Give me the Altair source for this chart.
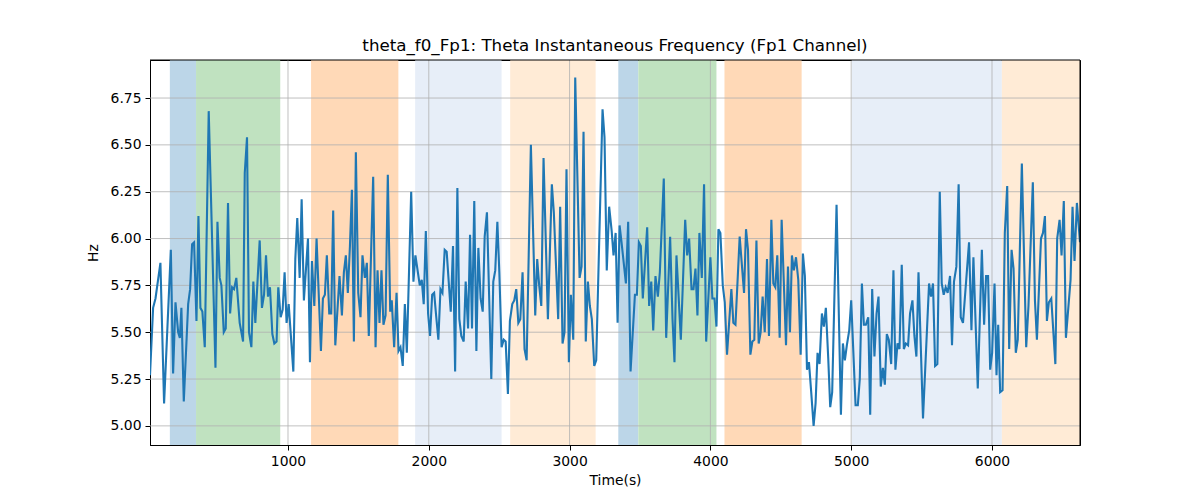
import pandas as pd
import altair as alt

# time (s) and instantaneous frequency (Hz)
t = [20, 42, 59, 94, 120, 168, 184, 201, 220, 232, 243, 260, 291, 305, 319, 333, 350, 364, 378, 392,
     409, 437, 485, 499, 515, 527, 544, 558, 574, 589, 603, 617, 633, 657, 681, 693, 709, 723, 740, 754,
     768, 799, 815, 830, 844, 858, 872, 889, 903, 919, 931, 948, 962, 976, 990, 1005, 1038, 1052, 1066, 1083,
     1097, 1113, 1142, 1156, 1170, 1187, 1203, 1234, 1248, 1262, 1276, 1293, 1307, 1321, 1336, 1366, 1383, 1397, 1411, 1425,
     1440, 1454, 1468, 1482, 1499, 1515, 1529, 1546, 1560, 1574, 1605, 1622, 1636, 1650, 1664, 1678, 1693, 1709, 1726, 1737,
     1754, 1771, 1785, 1799, 1815, 1830, 1844, 1875, 1891, 1905, 1936, 1950, 1964, 1979, 1995, 2009, 2024, 2038, 2052, 2068,
     2083, 2097, 2113, 2127, 2156, 2172, 2187, 2203, 2217, 2231, 2248, 2262, 2279, 2293, 2307, 2323, 2338, 2352, 2368, 2383,
     2397, 2413, 2444, 2458, 2472, 2487, 2501, 2517, 2532, 2546, 2562, 2576, 2593, 2607, 2621, 2636, 2650, 2666, 2680, 2695,
     2725, 2756, 2770, 2784, 2799, 2815, 2846, 2874, 2888, 2919, 2933, 2950, 2964, 2978, 2995, 3009, 3026, 3040, 3071, 3085,
     3099, 3115, 3130, 3144, 3158, 3175, 3189, 3234, 3248, 3264, 3281, 3299, 3312, 3327, 3341, 3355, 3369, 3400, 3416, 3433,
     3464, 3478, 3492, 3506, 3520, 3551, 3565, 3580, 3594, 3610, 3627, 3641, 3669, 3686, 3714, 3731, 3745, 3759, 3773, 3790,
     3821, 3835, 3849, 3866, 3880, 3894, 3908, 3922, 3939, 3955, 3970, 4000, 4014, 4029, 4043, 4057, 4071, 4088, 4102, 4118,
     4149, 4163, 4178, 4208, 4239, 4253, 4267, 4284, 4298, 4312, 4327, 4343, 4357, 4371, 4386, 4402, 4416, 4433, 4447, 4461,
     4475, 4492, 4506, 4537, 4551, 4565, 4579, 4593, 4608, 4624, 4641, 4657, 4671, 4686, 4700, 4716, 4733, 4747, 4761, 4775,
     4792, 4806, 4820, 4837, 4851, 4865, 4896, 4927, 4941, 4955, 4969, 4986, 5000, 5031, 5047, 5061, 5076, 5090, 5104, 5121,
     5135, 5149, 5165, 5180, 5194, 5210, 5225, 5239, 5253, 5267, 5284, 5300, 5314, 5329, 5343, 5359, 5374, 5388, 5404, 5418,
     5435, 5449, 5463, 5478, 5510, 5553, 5567, 5581, 5596, 5612, 5629, 5643, 5657, 5671, 5685, 5702, 5716, 5730, 5747, 5763,
     5778, 5794, 5837, 5854, 5868, 5899, 5928, 5944, 5958, 5972, 5987, 6001, 6018, 6032, 6044, 6058, 6075, 6091, 6108, 6122,
     6139, 6153, 6169, 6183, 6212, 6243, 6259, 6290, 6305, 6319, 6348, 6362, 6376, 6390, 6404, 6421, 6450, 6463, 6480, 6494,
     6510, 6525, 6558, 6572, 6586, 6603, 6625]
hz = [5.27, 5.63, 5.68, 5.87, 5.12, 5.94, 5.28, 5.66, 5.50, 5.47, 5.63, 5.13, 5.65, 5.73, 5.97, 5.98, 5.56, 6.12, 5.63, 5.61,
      5.42, 6.68, 5.31, 6.09, 5.79, 5.75, 5.50, 5.52, 6.19, 5.60, 5.74, 5.73, 5.79, 5.55, 5.45, 6.35, 6.54, 5.50, 5.42, 5.77,
      5.55, 5.99, 5.63, 5.70, 5.91, 5.69, 5.74, 5.49, 5.44, 5.45, 5.74, 5.58, 5.62, 5.82, 5.55, 5.65, 5.29, 5.89, 6.11, 5.79,
      6.21, 5.67, 6.00, 5.34, 5.88, 5.64, 6.00, 5.40, 5.68, 5.70, 5.91, 5.60, 5.60, 6.15, 5.43, 5.80, 5.59, 5.82, 5.91, 5.71,
      5.96, 6.26, 5.45, 6.46, 5.71, 5.58, 5.91, 5.79, 5.87, 5.48, 6.33, 5.42, 5.83, 5.55, 5.83, 5.54, 5.59, 6.34, 5.61, 5.67,
      5.42, 5.71, 5.40, 5.42, 5.32, 5.65, 5.39, 6.25, 5.77, 5.91, 5.75, 5.78, 5.65, 6.04, 5.60, 5.48, 5.70, 5.71, 5.59, 5.46,
      5.73, 5.71, 5.94, 5.93, 5.61, 5.96, 5.29, 6.27, 5.57, 5.48, 5.45, 5.77, 5.52, 6.02, 5.52, 6.20, 5.40, 5.95, 5.68, 5.61,
      6.01, 6.14, 5.25, 5.77, 5.83, 6.09, 5.82, 5.42, 5.46, 5.45, 5.17, 5.56, 5.65, 5.67, 5.73, 5.55, 5.57, 5.82, 5.41, 5.35,
      6.50, 5.59, 5.89, 5.75, 5.64, 6.43, 5.57, 6.29, 6.14, 5.57, 6.17, 5.44, 5.50, 6.37, 5.34, 5.70, 5.46, 6.86, 5.79, 5.85,
      6.57, 5.45, 5.77, 5.64, 5.57, 5.32, 5.35, 6.69, 6.54, 5.83, 6.17, 6.04, 5.91, 6.03, 5.55, 6.07, 5.98, 5.76, 6.09, 5.29,
      5.70, 5.70, 5.98, 5.96, 5.68, 6.06, 5.64, 5.77, 5.51, 5.80, 5.69, 5.82, 6.32, 5.47, 6.01, 5.57, 5.34, 5.91, 5.71, 5.46,
      6.10, 5.91, 6.00, 5.73, 5.73, 5.84, 5.59, 6.03, 5.79, 6.29, 5.45, 5.90, 5.68, 5.68, 5.53, 6.05, 6.03, 5.75, 5.66, 5.38,
      5.73, 5.55, 5.54, 6.01, 5.71, 6.05, 5.94, 5.38, 5.45, 5.46, 5.99, 5.44, 5.50, 5.69, 5.50, 5.89, 5.48, 6.10, 5.76, 5.74,
      5.91, 5.47, 6.10, 5.43, 5.85, 5.50, 5.91, 5.83, 5.90, 5.78, 5.38, 5.92, 5.80, 5.30, 5.34, 5.18, 5.00, 5.12, 5.39, 5.33,
      5.60, 5.53, 5.63, 5.36, 5.10, 5.18, 6.18, 5.06, 5.44, 5.35, 5.43, 5.51, 5.67, 5.11, 5.11, 5.25, 5.76, 5.54, 5.54, 5.58,
      5.06, 5.73, 5.37, 5.60, 5.69, 5.21, 5.31, 5.22, 5.49, 5.46, 5.33, 5.83, 5.30, 5.44, 5.41, 5.86, 5.41, 5.44, 5.43, 5.60,
      5.67, 5.48, 5.37, 5.82, 5.04, 5.76, 5.69, 5.76, 5.32, 5.33, 6.25, 5.76, 5.70, 5.74, 5.71, 5.80, 5.43, 5.77, 5.85, 6.29,
      5.58, 5.55, 5.98, 5.51, 5.90, 5.20, 5.94, 5.54, 5.80, 5.80, 5.30, 5.39, 5.76, 5.27, 5.54, 5.18, 5.19, 6.03, 6.28, 5.41,
      5.94, 5.84, 5.39, 5.46, 6.40, 5.42, 5.64, 6.30, 5.67, 5.46, 6.00, 6.03, 6.12, 5.56, 5.66, 5.68, 5.33, 6.00, 6.10, 5.91,
      6.20, 5.47, 5.78, 6.17, 5.88, 6.19, 5.98]

# shaded segments
band_start = [161, 347, 1164, 1903, 2578, 3346, 3488, 4100, 5005, 6070]
band_end = [347, 945, 1784, 2517, 3185, 3488, 4043, 4648, 6070, 6625]
band_kind = ['a', 'b', 'c', 'd', 'e', 'a', 'b', 'c', 'd', 'e']

x_ticks = [1000, 2000, 3000, 4000, 5000, 6000]
y_ticks = [5.0, 5.25, 5.5, 5.75, 6.0, 6.25, 6.5, 6.75]

x_dom = [20, 6625]
y_dom = [4.898, 6.953]

xs = alt.Scale(domain=x_dom, nice=False, zero=False)
ys = alt.Scale(domain=y_dom, nice=False, zero=False)

line_df = pd.DataFrame({'t': t, 'hz': hz})
band_df = pd.DataFrame({'s': band_start, 'e': band_end, 'k': band_kind})

bands = alt.Chart(band_df).mark_rect(opacity=1).encode(
    x=alt.X('s:Q', scale=xs),
    x2='e:Q',
    color=alt.Color('k:N', legend=None,
                    scale=alt.Scale(domain=['a', 'b', 'c', 'd', 'e'],
                                    range=['#bcd6e8', '#c0e2c0', '#ffd9b7', '#e7eef8', '#ffebd6'])),
)

vgrid = alt.Chart(pd.DataFrame({'g': x_ticks})).mark_rule(color='#b0b0b0', strokeWidth=0.8).encode(
    x=alt.X('g:Q', scale=xs)
)
hgrid = alt.Chart(pd.DataFrame({'g': y_ticks})).mark_rule(color='#b0b0b0', strokeWidth=0.8).encode(
    y=alt.Y('g:Q', scale=ys)
)

line = alt.Chart(line_df).mark_line(color='#1f77b4', strokeWidth=2.1, clip=True).encode(
    x=alt.X('t:Q', scale=xs, title='Time(s)',
            axis=alt.Axis(values=x_ticks, format='d', grid=False, titlePadding=6)),
    y=alt.Y('hz:Q', scale=ys, title='Hz',
            axis=alt.Axis(values=y_ticks, format='.2f', grid=False, titlePadding=10)),
)

# top and right spines drawn over the shaded bands
top_spine = alt.Chart().mark_rule(color='black', strokeWidth=1).encode(y=alt.datum(y_dom[1], scale=ys))
right_spine = alt.Chart().mark_rule(color='black', strokeWidth=1).encode(x=alt.datum(x_dom[1], scale=xs))

chart = alt.layer(bands, vgrid, hgrid, line, top_spine, right_spine).properties(
    width=930,
    height=385,
    title=alt.TitleParams('theta_f0_Fp1: Theta Instantaneous Frequency (Fp1 Channel)',
                          fontSize=16.7, fontWeight='normal', font='DejaVu Sans',
                          color='black', offset=5, anchor='middle'),
    autosize=alt.AutoSizeParams(type='none'),
    padding={'left': 142, 'top': 52, 'right': 112, 'bottom': 47},
).configure_view(
    stroke='black', strokeWidth=1
).configure_axis(
    domainColor='black', tickColor='black', labelColor='black', titleColor='black',
    labelFont='DejaVu Sans', titleFont='DejaVu Sans',
    labelFontSize=13.9, titleFontSize=13.9, titleFontWeight='normal',
    tickSize=5, labelPadding=4, domainWidth=1, tickWidth=1, zindex=1
)

chart.save("out.html", embed_options={"renderer": "svg", "actions": False})
